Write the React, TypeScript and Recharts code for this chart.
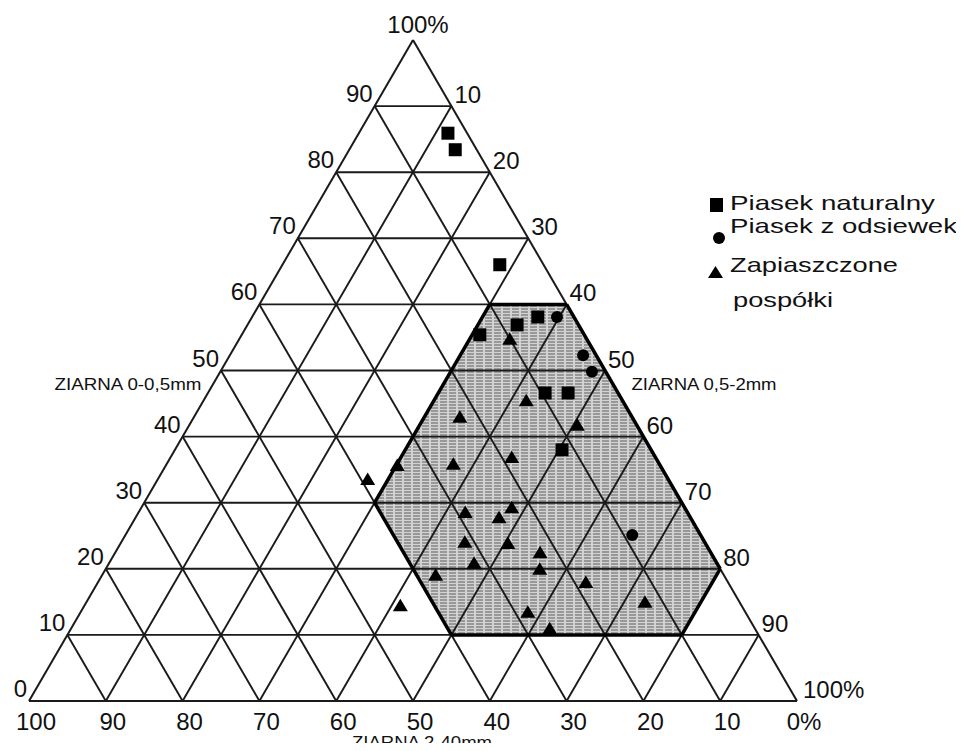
import { ComposedChart, Area, Scatter, XAxis, YAxis, ReferenceLine } from "recharts";

// ternary points: [ziarna 0-0,5mm, ziarna 0,5-2mm, ziarna 2-40mm] in %
const piasekNaturalny = [
  [85.9, 11.6, 2.5],
  [83.4, 13.8, 2.8],
  [66.0, 28.3, 5.7],
  [55.4, 31.0, 13.6],
  [56.9, 35.1, 8.0],
  [58.1, 37.2, 4.7],
  [46.6, 43.9, 9.5],
  [46.6, 46.9, 6.5],
  [38.0, 50.4, 11.6],
];

const piasekZOdsiewek = [
  [58.1, 39.7, 2.2],
  [52.3, 46.0, 1.7],
  [49.8, 48.4, 1.8],
  [25.1, 66.0, 8.9],
];

const zapiaszczonePospolki = [
  [54.8, 35.2, 10.0],
  [45.5, 42.0, 12.5],
  [43.0, 34.6, 22.4],
  [41.8, 50.5, 7.7],
  [36.9, 44.4, 18.7],
  [35.9, 37.3, 26.8],
  [35.7, 30.1, 34.2],
  [33.6, 27.3, 39.1],
  [28.6, 42.5, 28.9],
  [29.3, 48.2, 22.5],
  [27.8, 47.3, 24.9],
  [24.1, 44.7, 31.2],
  [23.9, 50.4, 25.7],
  [22.5, 55.3, 22.2],
  [20.9, 47.5, 31.6],
  [20.0, 56.5, 23.5],
  [19.1, 43.4, 37.5],
  [18.0, 63.5, 18.5],
  [14.5, 41.1, 44.4],
  [15.0, 72.7, 12.3],
  [13.5, 58.2, 28.3],
  [11.0, 62.3, 26.7],
];

// shaded zone, vertices as [fine, medium, coarse]
const zoneVertices = [
  [60, 30, 10],
  [60, 40, 0],
  [20, 80, 0],
  [10, 80, 10],
  [10, 50, 40],
  [30, 30, 40],
];

const gridSteps = [10, 20, 30, 40, 50, 60, 70, 80, 90];
const leftTicks = ["0", "10", "20", "30", "40", "50", "60", "70", "80", "90"];
const rightTicks = ["10", "20", "30", "40", "50", "60", "70", "80", "90"];
const bottomTicks = ["100", "90", "80", "70", "60", "50", "40", "30", "20", "10", "0%"];
const axisTitles = ["ZIARNA 0-0,5mm", "ZIARNA 0,5-2mm", "ZIARNA 2-40mm"];
const legendNames = ["Piasek naturalny", "Piasek z odsiewek", "Zapiaszczone", "pospółki"];

const FONT = "'Liberation Sans', Arial, Helvetica, sans-serif";
const INK = "#111";

const toXY = (p: number[]) => ({ x: p[1] + p[0] / 2, y: p[0] });
const pt = (x: number, y: number) => ({ x, y });

function envelope(verts: { x: number; y: number }[]) {
  const xs = Array.from(new Set(verts.map((v) => v.x))).sort((a, b) => a - b);
  return xs.map((x) => {
    const ys: number[] = [];
    verts.forEach((a, i) => {
      const b = verts[(i + 1) % verts.length];
      if (x < Math.min(a.x, b.x) - 1e-9 || x > Math.max(a.x, b.x) + 1e-9) return;
      if (a.x === b.x) {
        ys.push(a.y, b.y);
        return;
      }
      const t = (x - a.x) / (b.x - a.x);
      ys.push(a.y + t * (b.y - a.y));
    });
    return { x, range: [Math.min(...ys), Math.max(...ys)] };
  });
}

const zoneXY = zoneVertices.map(toXY);
const zoneArea = envelope(zoneXY);

const gridSegments: { x: number; y: number }[][] = [];
gridSteps.forEach((k) => {
  gridSegments.push([pt(k / 2, k), pt(100 - k / 2, k)]); // fine = k
  gridSegments.push([pt(k, 0), pt(k + (100 - k) / 2, 100 - k)]); // medium = k
  gridSegments.push([pt(100 - k, 0), pt((100 - k) / 2, 100 - k)]); // coarse = k
});
const borderSegments = [
  [pt(0, 0), pt(100, 0)],
  [pt(0, 0), pt(50, 100)],
  [pt(100, 0), pt(50, 100)],
];
const zoneSegments = zoneXY.map((v, i) => [v, zoneXY[(i + 1) % zoneXY.length]]);

type Lbl = { x: number; y: number; text: string; dx: number; dy: number; anchor: string; size: number; len?: number };
const labels: Lbl[] = [
  ...leftTicks.map((t, i) => ({ x: (i * 10) / 2, y: i * 10, text: t, dx: -2, dy: -4, anchor: "end", size: 24 })),
  { x: 50, y: 100, text: "100%", dx: 5, dy: -7, anchor: "middle", size: 24 },
  ...rightTicks.map((t, i) => {
    const m = (i + 1) * 10;
    return { x: m + (100 - m) / 2, y: 100 - m, text: t, dx: 3, dy: -3, anchor: "start", size: 24 };
  }),
  { x: 100, y: 0, text: "100%", dx: 6, dy: -3, anchor: "start", size: 24 },
  ...bottomTicks.map((t, i) => ({ x: i * 10, y: 0, text: t, dx: 7, dy: 29, anchor: "middle", size: 24 })),
  { x: 23.5, y: 47, text: axisTitles[0], dx: -8, dy: 0, anchor: "end", size: 17, len: 147 },
  { x: 76.5, y: 47, text: axisTitles[1], dx: 15, dy: 0, anchor: "start", size: 17, len: 145 },
  { x: 50, y: 0, text: axisTitles[2], dx: 9, dy: 47, anchor: "middle", size: 16, len: 140 },
];

const SquareMark = (p: any) => <rect x={p.cx - 6.5} y={p.cy - 6.5} width={13} height={13} fill="#000" />;
const CircleMark = (p: any) => <circle cx={p.cx} cy={p.cy} r={6} fill="#000" />;
const TriMark = (p: any) => (
  <polygon points={`${p.cx - 7.5},${p.cy + 6} ${p.cx + 7.5},${p.cy + 6} ${p.cx},${p.cy - 6.5}`} fill="#000" />
);
const LabelMark = (p: any) => {
  const d = p.payload as Lbl;
  return (
    <text
      x={p.cx + d.dx}
      y={p.cy + d.dy}
      textAnchor={d.anchor as any}
      fontSize={d.size}
      fontFamily={FONT}
      fill={INK}
      textLength={d.len}
      lengthAdjust={d.len ? "spacingAndGlyphs" : undefined}
    >
      {d.text}
    </text>
  );
};

export default function App() {
  const W = 948;
  const H = 735;
  return (
    <div style={{ position: "relative", width: W, height: H, background: "#fff" }}>
      <style>{`.recharts-wrapper, .recharts-surface { overflow: visible !important; }`}</style>
      <ComposedChart
        width={W}
        height={H}
        data={zoneArea}
        margin={{ top: 32, left: 21, right: 159, bottom: 42 }}
      >
        <defs>
          <pattern id="zoneFill" width="9" height="3" patternUnits="userSpaceOnUse">
            <rect width="9" height="3" fill="#d2d2d2" />
            <line x1="0" y1="1" x2="7" y2="1" stroke="#5e5e5e" strokeWidth="1" />
          </pattern>
        </defs>
        <XAxis type="number" dataKey="x" domain={[0, 100]} hide />
        <YAxis type="number" dataKey="y" domain={[0, 100]} hide />
        <Area
          type="linear"
          dataKey="range"
          fill="url(#zoneFill)"
          fillOpacity={1}
          stroke="none"
          isAnimationActive={false}
        />
        {gridSegments.map((s, i) => (
          <ReferenceLine key={`g${i}`} segment={s} stroke="#1a1a1a" strokeWidth={1.9} />
        ))}
        {borderSegments.map((s, i) => (
          <ReferenceLine key={`b${i}`} segment={s} stroke="#1a1a1a" strokeWidth={2} />
        ))}
        {zoneSegments.map((s, i) => (
          <ReferenceLine key={`z${i}`} segment={s} stroke="#000" strokeWidth={3.5} />
        ))}
        <Scatter data={piasekNaturalny.map(toXY)} shape={SquareMark} isAnimationActive={false} />
        <Scatter data={piasekZOdsiewek.map(toXY)} shape={CircleMark} isAnimationActive={false} />
        <Scatter data={zapiaszczonePospolki.map(toXY)} shape={TriMark} isAnimationActive={false} />
        <Scatter data={labels} shape={LabelMark} isAnimationActive={false} />
      </ComposedChart>
      <svg
        width={W}
        height={H}
        style={{ position: "absolute", left: 0, top: 0, pointerEvents: "none" }}
        fontFamily={FONT}
        fill={INK}
      >
        <rect x={702} y={190} width={13} height={14} fill="#000" />
        <text x={722} y={202} fontSize={21} textLength={205} lengthAdjust="spacingAndGlyphs">
          {legendNames[0]}
        </text>
        <circle cx={711} cy={230} r={6} fill="#000" />
        <text x={722} y={225} fontSize={21} textLength={227} lengthAdjust="spacingAndGlyphs">
          {legendNames[1]}
        </text>
        <polygon points="700,270 715,270 707.5,258" fill="#000" />
        <text x={722} y={264} fontSize={21} textLength={168} lengthAdjust="spacingAndGlyphs">
          {legendNames[2]}
        </text>
        <text x={725} y={299} fontSize={21} textLength={100} lengthAdjust="spacingAndGlyphs">
          {legendNames[3]}
        </text>
      </svg>
    </div>
  );
}
